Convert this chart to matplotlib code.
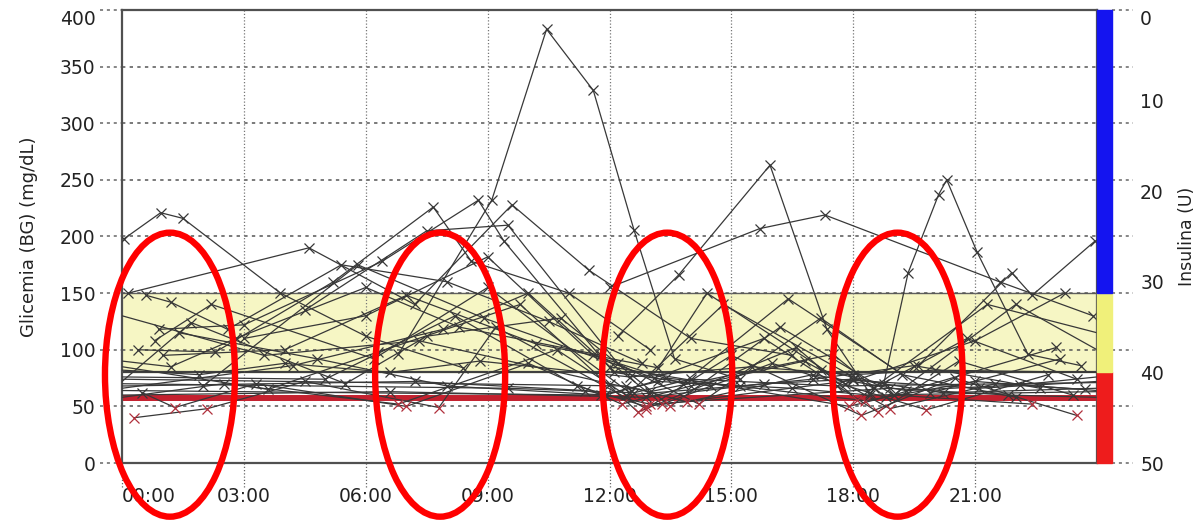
import numpy as np
import matplotlib.pyplot as plt
from matplotlib.patches import Ellipse, Rectangle

plt.rcParams['font.family'] = ['DejaVu Sans']

# glucose readings per day: hour of day and BG in mg/dL
hours = [
    [0.05, 0.95, 1.5, 3.9, 6.0, 8.4],
    [6.8, 9.1, 10.45, 11.6, 12.6, 13.6, 15.2],
    [12.2, 13.7, 15.95, 17.35, 18.4],
    [12.0, 15.7, 17.3, 21.6, 23.9],
    [17.2, 18.75, 19.35, 20.1, 20.3, 21.05, 22.3, 23.6],
    [0.4, 2.3, 5.2, 7.66, 8.6, 11.0, 13.0],
    [0.9, 3.0, 6.4, 8.77, 9.4, 12.1, 14.5],
    [0.15, 4.6, 7.2, 9.6, 11.5, 14.0, 16.5],
    [19.6, 21.9, 22.4, 23.95],
    [0.6, 1.2, 2.6, 5.4, 8.0, 10.5, 12.8],
    [0.0, 1.9, 4.0, 6.6, 8.8, 12.5, 15.5, 18.0, 20.0, 24.0],
    [0.5, 1.3, 3.3, 7.0, 10.0, 12.3, 14.0, 16.8, 18.9, 21.5, 23.7],
    [0.3, 2.1, 4.5, 7.8, 9.2, 12.9, 15.0, 18.2, 20.5, 23.5],
    [0.0, 1.2, 2.8, 6.0, 8.3, 11.8, 13.3, 16.0, 19.8, 22.8],
    [0.0, 3.5, 7.3, 12.0, 13.0, 17.5, 18.8, 23.0],
    [0.0, 1.7, 5.5, 7.5, 10.8, 13.5, 16.2, 19.0, 22.0, 24.0],
    [0.8, 2.2, 6.2, 9.0, 12.5, 14.8, 18.5, 20.8, 23.5],
    [1.0, 4.0, 7.0, 10.2, 13.2, 14.4, 17.8, 21.0, 23.2],
    [0.0, 2.5, 6.8, 10.7, 12.4, 15.2, 17.0, 19.5, 22.6],
    [0.0, 3.6, 6.3, 9.8, 12.7, 16.6, 18.1, 21.3, 24.0],
    [4.5, 7.5, 9.5, 12.2, 14.2, 17.2, 19.2, 22.0],
    [3.0, 6.0, 9.0, 11.6, 13.8, 16.4, 19.9, 23.1],
    [0.0, 5.0, 8.2, 11.2, 12.9, 18.0, 21.1, 24.0],
    [2.0, 5.8, 8.9, 13.1, 15.8, 18.6, 20.6, 23.4],
    [0.0, 4.2, 7.9, 10.0, 12.0, 17.9, 19.0, 22.4],
    [1.4, 4.8, 8.0, 11.9, 13.4, 18.3, 21.0, 24.0],
    [0.0, 9.5, 12.6, 14.0, 17.6, 24.0],
    [0.0, 11.8, 13.2, 16.5, 18.4, 24.0],
    [0.0, 12.4, 13.9, 17.0, 19.3, 22.1, 24.0],
    [0.0, 6.6, 12.9, 15.8, 18.0, 20.2, 24.0],
    [0.0, 7.2, 11.4, 13.0, 18.9, 21.8, 24.0],
]
glicemia = [
    [198, 221, 216, 150, 112, 84],
    [96, 232, 383, 329, 206, 92, 74],
    [112, 166, 263, 118, 62],
    [155, 207, 219, 160, 130],
    [82, 70, 168, 237, 250, 186, 96, 86],
    [100, 98, 160, 226, 178, 150, 100],
    [118, 122, 178, 232, 196, 80, 68],
    [150, 190, 140, 228, 170, 110, 95],
    [86, 168, 148, 196],
    [148, 142, 118, 175, 160, 125, 88],
    [82, 78, 88, 80, 90, 76, 85, 78, 82, 80],
    [62, 49, 70, 50, 88, 52, 68, 90, 48, 70, 65],
    [40, 48, 72, 49, 120, 48, 95, 42, 75, 42],
    [90, 85, 110, 155, 120, 95, 52, 88, 47, 78],
    [130, 95, 108, 70, 63, 96, 58, 102],
    [72, 124, 70, 112, 128, 50, 120, 60, 140, 100],
    [108, 140, 92, 155, 62, 140, 66, 110, 74],
    [95, 100, 148, 105, 84, 150, 70, 108, 150],
    [58, 70, 52, 100, 60, 68, 74, 86, 66],
    [85, 65, 98, 140, 45, 102, 56, 140, 115],
    [135, 205, 210, 88, 52, 128, 78, 58],
    [110, 130, 182, 95, 70, 145, 62, 92],
    [76, 74, 130, 68, 50, 73, 66, 72],
    [68, 175, 128, 75, 110, 45, 90, 60],
    [66, 86, 118, 150, 85, 50, 60, 52],
    [115, 92, 68, 60, 75, 55, 72, 64],
    [70, 66, 62, 74, 68, 71],
    [64, 60, 72, 66, 60, 63],
    [74, 68, 54, 78, 64, 69, 76],
    [60, 63, 58, 70, 74, 62, 66],
    [68, 72, 64, 52, 66, 60, 58],
]

target_low, target_high = 80, 150
hypo_limit = 57
bg_max = 400
insulin_max = 50
circled_hours = [1.18, 7.83, 13.42, 19.09]
circle_center_bg = 78

fig = plt.figure(figsize=(12, 5.2), dpi=100)
ax = fig.add_axes([0.1017, 0.1096, 0.8125, 0.8712])
W, H = 975.0, 453.0  # axes size in pixels

ax.set_xlim(0, 24)
ax.set_ylim(0, bg_max)

# target range and hypo line
ax.axhspan(target_low, target_high, color='#f6f6c4', zorder=0)
ax.axhline(target_high, color='#606060', lw=1.0, zorder=1)
ax.axhline(target_low, color='#404040', lw=1.6, zorder=1)
ax.axhline(hypo_limit, color='#c4202e', lw=4.3, zorder=2)

# grid
for v in range(50, 400, 50):
    ax.axhline(v, color='#555555', lw=1.1, ls=(0, (2.2, 2.8)), zorder=1)
for h in range(3, 24, 3):
    ax.axvline(h, color='#777777', lw=0.9, ls=(0, (1, 1.6)), zorder=1)

# dotted tick marks outside the frame
ytr = ax.get_yaxis_transform()
xtr = ax.get_xaxis_transform()
for v in range(0, 401, 50):
    ax.plot([-22 / W, 0], [v, v], transform=ytr, color='#666666', lw=1.1,
            ls=(0, (2, 2.5)), clip_on=False)
    ax.plot([1 + 15 / W, 1 + 36 / W], [v, v], transform=ytr, color='#666666',
            lw=1.1, ls=(0, (2, 2.5)), clip_on=False)
for h in range(0, 24, 3):
    ax.plot([h, h], [0, -26 / H], transform=xtr, color='#666666', lw=0.9,
            ls=(0, (1, 1.6)), clip_on=False)

# daily traces (points on the frame edges are carried-over values, no marker)
for t, g in zip(hours, glicemia):
    t = np.array(t)
    g = np.array(g)
    ax.plot(t, g, color='#383838', lw=0.9, zorder=3)
    inner = (t > 0.01) & (t < 23.99)
    low = g < hypo_limit
    ax.plot(t[inner & ~low], g[inner & ~low], 'x', color='#383838', ms=7.5,
            mew=0.9, zorder=4)
    ax.plot(t[inner & low], g[inner & low], 'x', color='#b0303c', ms=7.5,
            mew=0.9, zorder=4)

# range bar on the right edge
bar_w = 15 / W
for lo, hi, c in [(0, target_low, '#ee1c1c'), (target_low, target_high, '#f0f07a'),
                  (target_high, bg_max, '#1414f0')]:
    ax.add_patch(Rectangle((1.0, lo), bar_w, hi - lo, transform=ytr,
                           color=c, clip_on=False, zorder=5))

# circled periods
ew = 130 / W * 24
eh = 284 / H * bg_max
for h in circled_hours:
    ax.add_patch(Ellipse((h, circle_center_bg), ew, eh, fill=False,
                         ec='#ff0000', lw=4.6, clip_on=False, zorder=10))

for s in ax.spines.values():
    s.set_color('#505050')
    s.set_linewidth(1.6)

ax.set_xticks(range(0, 24, 3))
ax.set_xticklabels(['%02d:00' % h for h in range(0, 24, 3)])
ax.set_yticks(range(0, 401, 50))
ax.tick_params(length=0, labelsize=13.5, colors='#222222')
ax.tick_params(axis='y', pad=19)
ax.tick_params(axis='x', pad=17)
ax.get_xticklabels()[0].set_ha('left')
ax.get_yticklabels()[-1].set_va('top')
ax.set_ylabel('Glicemia (BG) (mg/dL)', fontsize=13, color='#222222', labelpad=16)

ax2 = ax.twinx()
ax2.set_ylim(insulin_max, 0)
ax2.set_yticks(range(0, 51, 10))
ax2.tick_params(length=0, labelsize=13.5, colors='#222222', pad=31)
ax2.get_yticklabels()[0].set_va('top')
for s in ax2.spines.values():
    s.set_visible(False)
ax2.set_ylabel('Insulina (U)', fontsize=12.5, color='#222222', labelpad=10)

fig.savefig('out.png', dpi=100, facecolor='white')
